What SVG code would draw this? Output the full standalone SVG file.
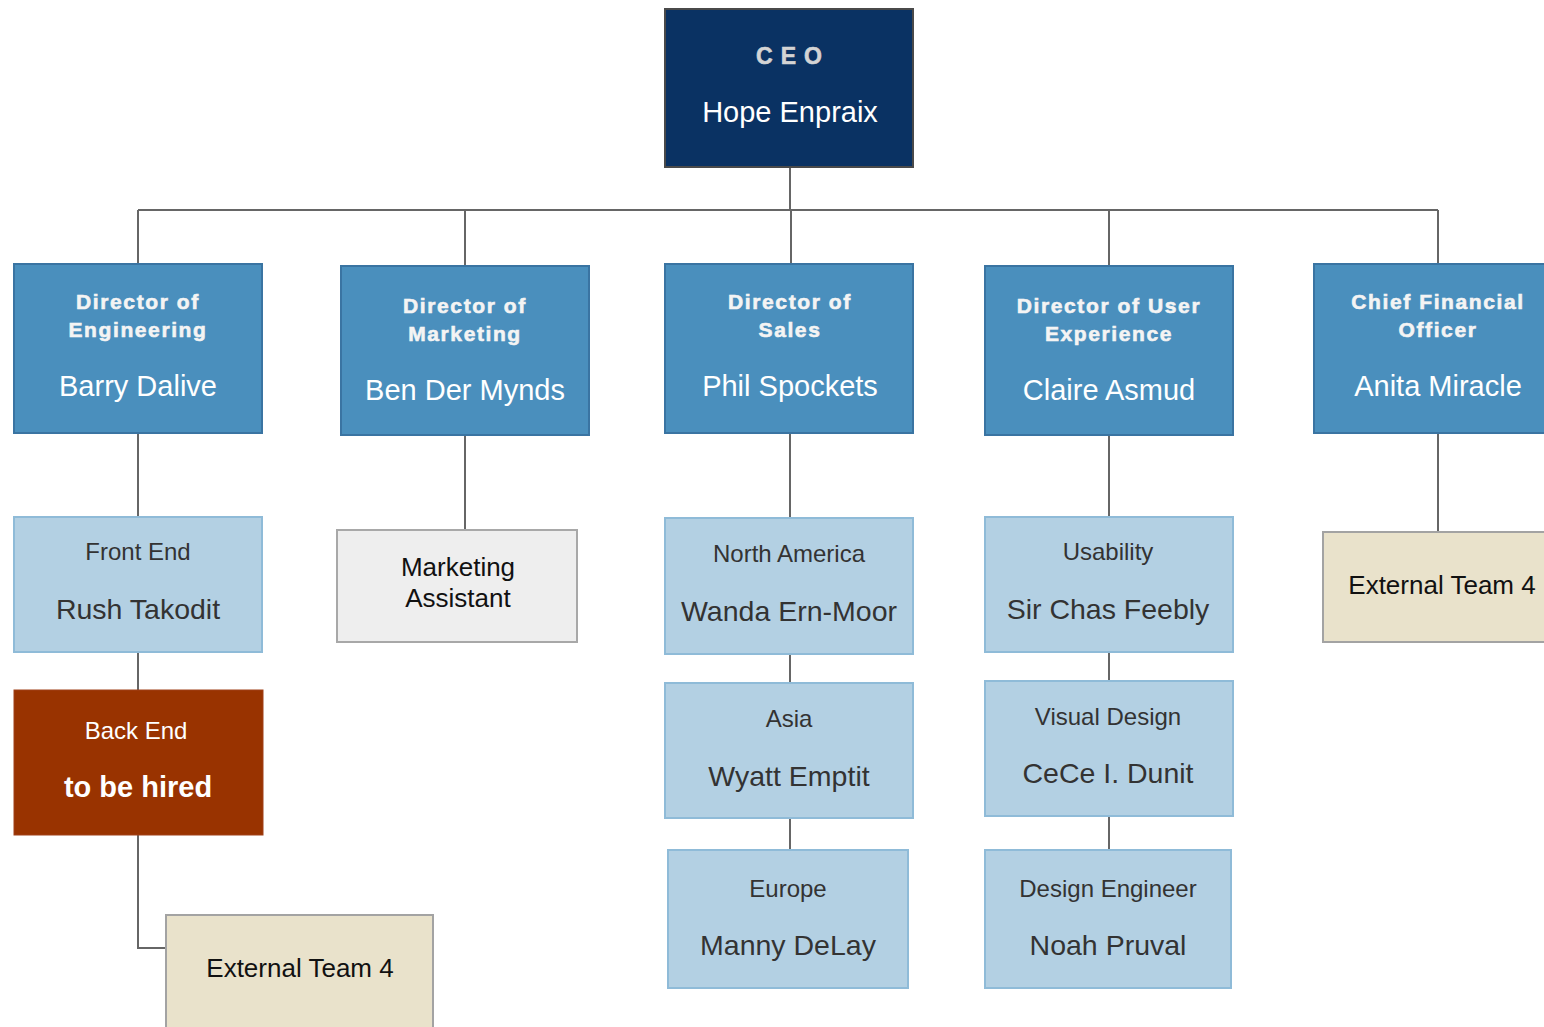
<svg xmlns="http://www.w3.org/2000/svg" width="1544" height="1027" viewBox="0 0 1544 1027">
<style>
text{font-family:"Liberation Sans",Arial,sans-serif;text-anchor:middle}
.ceo{fill:#0a3263;stroke:#4a4a4a;stroke-width:2}
.dir{fill:#4a8fbd;stroke:#3a74a2;stroke-width:2}
.lt{fill:#b3d0e3;stroke:#8fbbd8;stroke-width:2}
.be{fill:#993300;stroke:#a04018;stroke-width:1}
.ext{fill:#e9e2cb;stroke:#a3a3a3;stroke-width:2}
.ma{fill:#eeeeee;stroke:#a8a8a8;stroke-width:2}
.dt{fill:#f4f4f4;stroke:#f4f4f4;stroke-width:0.6px;font-weight:bold;font-size:21px;letter-spacing:1.6px}
.dn{fill:#ffffff;font-size:29px}
.st{fill:#333333;font-size:24px}
.sn{fill:#333333;font-size:28.5px}
.et{fill:#111111;font-size:26px}
.conn path{fill:none;stroke:#666666;stroke-width:2}
</style>
<g class="conn">
<path d="M790 167V210M138 210H1438M138 210V264M465 210V266M791 210V264M1109 210V266M1438 210V264"/>
<path d="M138 433V517M138 652V690M138 835V948H166"/>
<path d="M465 435V530"/>
<path d="M790 433V518M790 654V683M790 818V850"/>
<path d="M1109 435V517M1109 652V681M1109 816V850"/>
<path d="M1438 433V532"/>
</g>
<g id="ceo">
<rect class="ceo" x="665" y="9" width="248" height="158"/>
<text x="793" y="64" style="fill:#d4d4d4;stroke:#d4d4d4;stroke-width:0.6px;font-weight:bold;font-size:23px;letter-spacing:8px">CEO</text>
<text class="dn" x="790" y="122">Hope Enpraix</text>
</g>
<g id="dir-eng">
<rect class="dir" x="14" y="264" width="248" height="169"/>
<text class="dt" x="138" y="309">Director of</text>
<text class="dt" x="138" y="337">Engineering</text>
<text class="dn" x="138" y="396">Barry Dalive</text>
</g>
<g id="dir-mkt">
<rect class="dir" x="341" y="266" width="248" height="169"/>
<text class="dt" x="465" y="313">Director of</text>
<text class="dt" x="465" y="341">Marketing</text>
<text class="dn" x="465" y="400">Ben Der Mynds</text>
</g>
<g id="dir-sales">
<rect class="dir" x="665" y="264" width="248" height="169"/>
<text class="dt" x="790" y="309">Director of</text>
<text class="dt" x="790" y="337">Sales</text>
<text class="dn" x="790" y="396">Phil Spockets</text>
</g>
<g id="dir-ux">
<rect class="dir" x="985" y="266" width="248" height="169"/>
<text class="dt" x="1109" y="313">Director of User</text>
<text class="dt" x="1109" y="341">Experience</text>
<text class="dn" x="1109" y="400">Claire Asmud</text>
</g>
<g id="cfo">
<rect class="dir" x="1314" y="264" width="248" height="169"/>
<text class="dt" x="1438" y="309">Chief Financial</text>
<text class="dt" x="1438" y="337">Officer</text>
<text class="dn" x="1438" y="396">Anita Miracle</text>
</g>
<g id="front-end">
<rect class="lt" x="14" y="517" width="248" height="135"/>
<text class="st" x="138" y="560">Front End</text>
<text class="sn" x="138" y="619">Rush Takodit</text>
</g>
<g id="back-end">
<rect class="be" x="14" y="690" width="249" height="145"/>
<text x="136" y="739" style="fill:#ffffff;font-size:24px">Back End</text>
<text x="138" y="797" style="fill:#ffffff;font-size:29px;font-weight:bold">to be hired</text>
</g>
<g id="ext-left">
<rect class="ext" x="166" y="915" width="267" height="120"/>
<text class="et" x="300" y="977">External Team 4</text>
</g>
<g id="mkt-asst">
<rect class="ma" x="337" y="530" width="240" height="112"/>
<text class="et" x="458" y="576">Marketing</text>
<text class="et" x="458" y="607">Assistant</text>
</g>
<g id="north-america">
<rect class="lt" x="665" y="518" width="248" height="136"/>
<text class="st" x="789" y="562">North America</text>
<text class="sn" x="789" y="621">Wanda Ern-Moor</text>
</g>
<g id="asia">
<rect class="lt" x="665" y="683" width="248" height="135"/>
<text class="st" x="789" y="727">Asia</text>
<text class="sn" x="789" y="786">Wyatt Emptit</text>
</g>
<g id="europe">
<rect class="lt" x="668" y="850" width="240" height="138"/>
<text class="st" x="788" y="897">Europe</text>
<text class="sn" x="788" y="955">Manny DeLay</text>
</g>
<g id="usability">
<rect class="lt" x="985" y="517" width="248" height="135"/>
<text class="st" x="1108" y="560">Usability</text>
<text class="sn" x="1108" y="619">Sir Chas Feebly</text>
</g>
<g id="visual-design">
<rect class="lt" x="985" y="681" width="248" height="135"/>
<text class="st" x="1108" y="725">Visual Design</text>
<text class="sn" x="1108" y="783">CeCe I. Dunit</text>
</g>
<g id="design-engineer">
<rect class="lt" x="985" y="850" width="246" height="138"/>
<text class="st" x="1108" y="897">Design Engineer</text>
<text class="sn" x="1108" y="955">Noah Pruval</text>
</g>
<g id="ext-right">
<rect class="ext" x="1323" y="532" width="240" height="110"/>
<text class="et" x="1442" y="594">External Team 4</text>
</g>
</svg>
